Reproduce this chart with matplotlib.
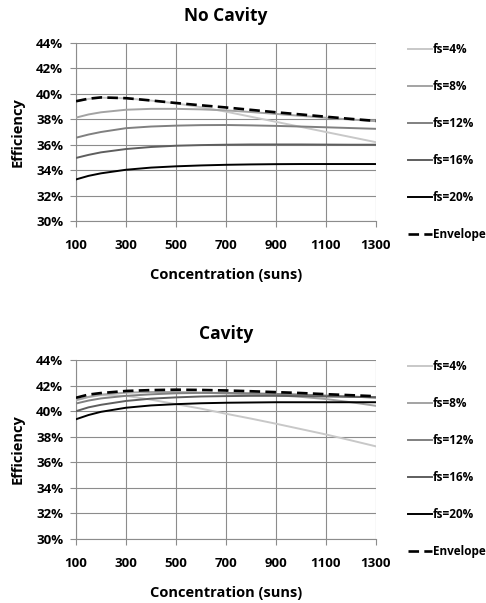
import numpy as np
import matplotlib
matplotlib.use('Agg')
import matplotlib.pyplot as plt
import matplotlib.ticker as mtick

plt.rcParams['font.family'] = ['Open Sans', 'DejaVu Sans']
plt.rcParams['font.weight'] = 'bold'

#%% data (efficiency in %)
conc = [100, 150, 200, 300, 400, 500, 600, 700, 800, 900, 1000, 1100, 1200, 1300]

nc_fs4 = [39.42, 39.60, 39.70, 39.65, 39.47, 39.25, 38.95, 38.60, 38.20, 37.80, 37.40, 37.00, 36.60, 36.20]
nc_fs8 = [38.13, 38.38, 38.55, 38.75, 38.82, 38.82, 38.78, 38.70, 38.57, 38.42, 38.27, 38.12, 37.98, 37.85]
nc_fs12 = [36.55, 36.80, 37.00, 37.30, 37.43, 37.50, 37.54, 37.55, 37.52, 37.48, 37.43, 37.37, 37.31, 37.25]
nc_fs16 = [34.96, 35.20, 35.40, 35.66, 35.82, 35.92, 35.97, 36.00, 36.02, 36.02, 36.02, 36.01, 36.00, 36.00]
nc_fs20 = [33.27, 33.55, 33.75, 34.03, 34.20, 34.30, 34.37, 34.42, 34.45, 34.47, 34.48, 34.48, 34.48, 34.48]
nc_env = [39.42, 39.62, 39.72, 39.66, 39.48, 39.28, 39.10, 38.93, 38.74, 38.55, 38.38, 38.20, 38.03, 37.87]

cv_fs4 = [40.85, 41.10, 41.25, 41.20, 40.90, 40.55, 40.20, 39.80, 39.42, 39.02, 38.60, 38.18, 37.72, 37.25]
cv_fs8 = [40.87, 41.12, 41.30, 41.45, 41.50, 41.50, 41.45, 41.38, 41.32, 41.25, 41.12, 40.95, 40.70, 40.42]
cv_fs12 = [40.60, 40.83, 41.00, 41.20, 41.32, 41.40, 41.43, 41.43, 41.40, 41.35, 41.30, 41.22, 41.15, 41.05]
cv_fs16 = [40.00, 40.30, 40.50, 40.80, 40.98, 41.08, 41.15, 41.18, 41.20, 41.20, 41.18, 41.15, 41.12, 41.10]
cv_fs20 = [39.37, 39.70, 39.95, 40.27, 40.45, 40.55, 40.62, 40.66, 40.68, 40.70, 40.70, 40.70, 40.70, 40.70]
cv_env = [41.05, 41.30, 41.42, 41.58, 41.65, 41.68, 41.66, 41.62, 41.56, 41.49, 41.42, 41.33, 41.25, 41.17]

labels = ['fs=4%', 'fs=8%', 'fs=12%', 'fs=16%', 'fs=20%', 'Envelope']
colors = ['#c8c8c8', '#a3a3a3', '#808080', '#5e5e5e', '#000000', '#000000']

x_ticks = [100, 300, 500, 700, 900, 1100, 1300]
y_ticks = [30, 32, 34, 36, 38, 40, 42, 44]

fig = plt.figure(figsize=(4.86, 6.03), dpi=100)
ax1 = fig.add_axes([0.1564, 0.6335, 0.617, 0.2952])
ax2 = fig.add_axes([0.1564, 0.1061, 0.617, 0.2968])


def draw(ax, series, title):
    for i, s in enumerate(series):
        if labels[i] == 'Envelope':
            ax.plot(conc, s, color=colors[i], linewidth=1.9, dashes=(4, 2), label=labels[i], zorder=5)
        else:
            ax.plot(conc, s, color=colors[i], linewidth=1.4, label=labels[i], zorder=3)
    ax.set_xlim(100, 1300)
    ax.set_ylim(30, 44)
    ax.set_xticks(x_ticks)
    ax.set_yticks(y_ticks)
    ax.yaxis.set_major_formatter(mtick.FormatStrFormatter('%d%%'))
    ax.grid(True, color='#8c8c8c', linewidth=0.8)
    ax.set_axisbelow(True)
    for side in ['top', 'right']:
        ax.spines[side].set_visible(False)
    for side in ['left', 'bottom']:
        ax.spines[side].set_color('#8c8c8c')
    ax.tick_params(colors='#8c8c8c', labelcolor='black', labelsize=9.5, length=4.3, width=0.8)
    ax.tick_params(axis='x', pad=9)
    ax.tick_params(axis='y', pad=5)
    for t in ax.get_xticklabels() + ax.get_yticklabels():
        t.set_fontweight('bold')
    ax.set_xlabel('Concentration (suns)', fontsize=10.5, fontweight='bold', labelpad=11)
    ax.set_ylabel('Efficiency', fontsize=10.5, fontweight='bold', labelpad=8)
    ax.set_title(title, fontsize=12.5, fontweight='bold', pad=15.5)
    leg = ax.legend(loc='upper left', bbox_to_anchor=(1.107, 0.998), frameon=False,
                    borderaxespad=0, borderpad=0,
                    fontsize=8.5, labelspacing=2.03, handlelength=2.0, handletextpad=0.1)
    return leg


draw(ax1, [nc_fs4, nc_fs8, nc_fs12, nc_fs16, nc_fs20, nc_env], 'No Cavity')
draw(ax2, [cv_fs4, cv_fs8, cv_fs12, cv_fs16, cv_fs20, cv_env], 'Cavity')

fig.savefig('out.png', dpi=100)
